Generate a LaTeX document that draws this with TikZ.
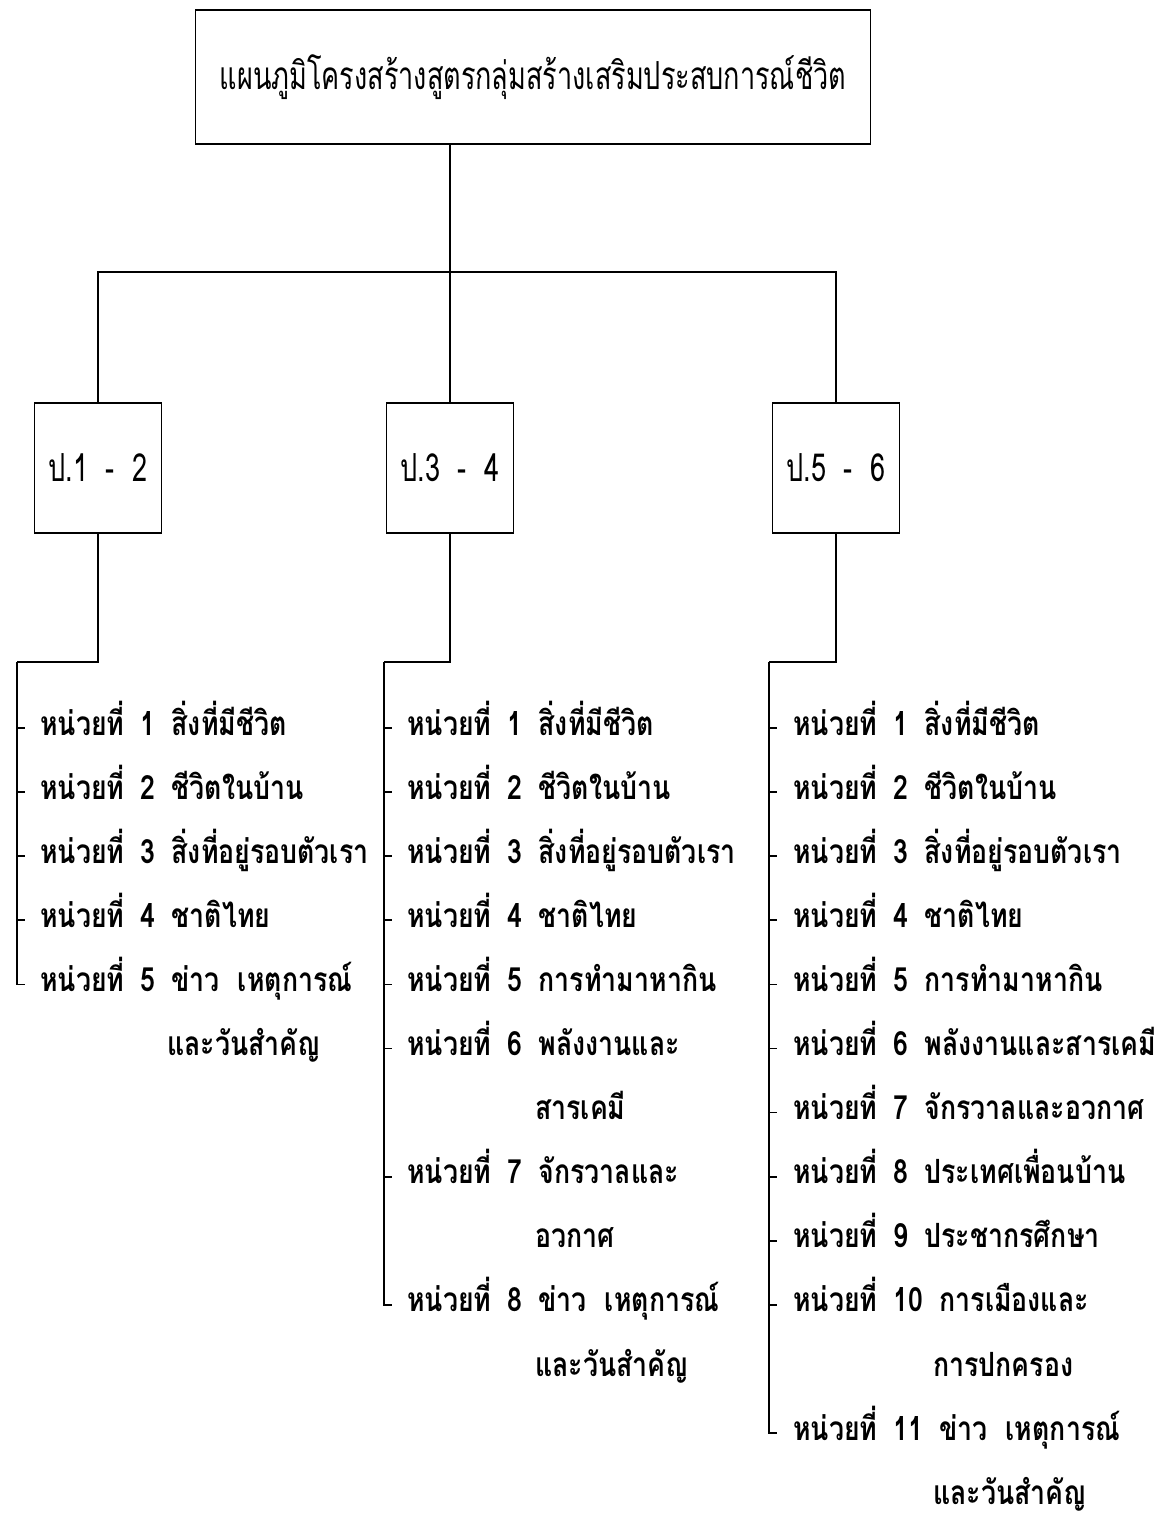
\documentclass[tikz,border=0pt]{standalone}
\usepackage{fontspec}
\newfontfamily\thaifont[Script=Thai,FakeStretch=0.8]{Loma}
\newfontfamily\thaithin[Script=Thai,FakeStretch=0.7]{Loma}

\begin{document}
\begin{tikzpicture}[x=0.02cm,y=-0.02cm,
    box/.style={draw,line width=1pt,inner sep=0pt},
    grade/.style={box,minimum width=2.54cm,minimum height=2.6cm,font=\thaithin\fontsize{22}{26}\selectfont},
    unit/.style={anchor=base west,inner sep=0pt,font=\thaifont\bfseries\fontsize{19}{22}\selectfont},
    link/.style={line width=1pt}]
  \useasboundingbox (0,0) rectangle (1172,1516);
  % title and grade boxes
  \node[box,minimum width=13.5cm,minimum height=2.68cm,font=\thaithin\fontsize{22}{26}\selectfont] (plan) at (533,77) {แผนภูมิโครงสร้างสูตรกลุ่มสร้างเสริมประสบการณ์ชีวิต};
  \node[grade] (p12) at (98,468) {ป.1\hspace{0.35cm}-\hspace{0.35cm}2};
  \node[grade] (p34) at (450,468) {ป.3\hspace{0.35cm}-\hspace{0.35cm}4};
  \node[grade] (p56) at (836,468) {ป.5\hspace{0.35cm}-\hspace{0.35cm}6};
  \coordinate (bar) at (450,272);
  \draw[link] (p34.north |- plan.south) -- (p34.north);
  \draw[link] (p12.north) |- (bar) -| (p56.north);
  % brackets
  \coordinate (k12) at (17,662);
  \coordinate (k34) at (384,662);
  \coordinate (k56) at (769,662);
  \draw[link] (p12.south) |- (k12);
  \draw[link] (p34.south) |- (k34);
  \draw[link] (p56.south) |- (k56);

  % ป.1 - 2
  \foreach \n/\r/\t in {1/0/สิ่งที่มีชีวิต, 2/1/ชีวิตในบ้าน, 3/2/สิ่งที่อยู่รอบตัวเรา, 4/3/ชาติไทย, 5/4/ข่าว\ \ เหตุการณ์}
    \node[unit] (a\n) at (40,{735+64.1*\r}) {\makebox[2cm][l]{หน่วยที่}\n\hspace{0.33cm}\t};
  \node[unit] (a5x) at (167,{735+64.1*5}) {และวันสำคัญ};
  \foreach \n in {1,...,4}
    \draw[link] (k12 |- a\n.base) ++(0,-7) -- ++(8,0);
  \draw[link] (k12) -- ([yshift=0.14cm]k12 |- a5.base) -- ++(8,0);

  % ป.3 - 4
  \foreach \n/\r/\t in {1/0/สิ่งที่มีชีวิต, 2/1/ชีวิตในบ้าน, 3/2/สิ่งที่อยู่รอบตัวเรา, 4/3/ชาติไทย, 5/4/การทำมาหากิน, 6/5/พลังงานและ, 7/7/จักรวาลและ, 8/9/ข่าว\ \ เหตุการณ์}
    \node[unit] (b\n) at (407,{735+64.1*\r}) {\makebox[2cm][l]{หน่วยที่}\n\hspace{0.33cm}\t};
  \node[unit] (b6x) at (535,{735+64.1*6}) {สารเคมี};
  \node[unit] (b7x) at (535,{735+64.1*8}) {อวกาศ};
  \node[unit] (b8x) at (535,{735+64.1*10}) {และวันสำคัญ};
  \foreach \n in {1,...,7}
    \draw[link] (k34 |- b\n.base) ++(0,-7) -- ++(8,0);
  \draw[link] (k34) -- ([yshift=0.14cm]k34 |- b8.base) -- ++(8,0);

  % ป.5 - 6
  \foreach \n/\r/\t in {1/0/สิ่งที่มีชีวิต, 2/1/ชีวิตในบ้าน, 3/2/สิ่งที่อยู่รอบตัวเรา, 4/3/ชาติไทย, 5/4/การทำมาหากิน, 6/5/พลังงานและสารเคมี, 7/6/จักรวาลและอวกาศ, 8/7/ประเทศเพื่อนบ้าน, 9/8/ประชากรศึกษา, 10/9/การเมืองและ, 11/11/ข่าว\ \ เหตุการณ์}
    \node[unit] (c\n) at (793,{735+64.1*\r}) {\makebox[2cm][l]{หน่วยที่}\n\hspace{0.33cm}\t};
  \node[unit] (c10x) at (933,{735+64.1*10}) {การปกครอง};
  \node[unit] (c11x) at (933,{735+64.1*12}) {และวันสำคัญ};
  \foreach \n in {1,...,10}
    \draw[link] (k56 |- c\n.base) ++(0,-7) -- ++(8,0);
  \draw[link] (k56) -- ([yshift=0.14cm]k56 |- c11.base) -- ++(8,0);
\end{tikzpicture}
\end{document}
